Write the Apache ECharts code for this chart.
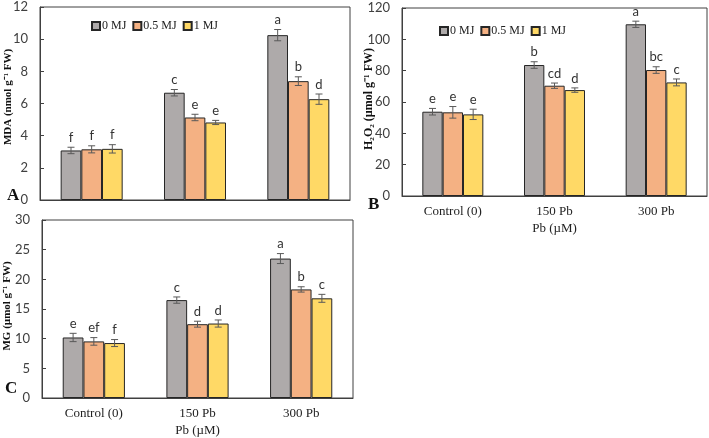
<!DOCTYPE html>
<html>
<head>
<meta charset="utf-8">
<script src="https://cdn.jsdelivr.net/npm/echarts@6/dist/echarts.min.js"></script>
<style>
  html, body { margin: 0; padding: 0; background: #fff; }
  #main { width: 709px; height: 438px; }
</style>
</head>
<body>
<div id="main"></div>
<script>
var categories = ['Control (0)', '150 Pb', '300 Pb'];
var seriesNames = ['0 MJ', '0.5 MJ', '1 MJ'];
var colors = ['#AEAAAA', '#F4B183', '#FFD966'];

// A: MDA
var mda0 = [3.08, 6.67, 10.25];
var mda05 = [3.15, 5.13, 7.39];
var mda1 = [3.18, 4.82, 6.27];
var mdaErr0 = [0.2, 0.2, 0.35];
var mdaErr05 = [0.22, 0.2, 0.27];
var mdaErr1 = [0.26, 0.13, 0.32];
var mdaLet0 = ['f', 'c', 'a'];
var mdaLet05 = ['f', 'e', 'b'];
var mdaLet1 = ['f', 'e', 'd'];

// B: H2O2
var h2o2_0 = [53.8, 83.6, 109.6];
var h2o2_05 = [53.4, 70.4, 80.4];
var h2o2_1 = [52.1, 67.6, 72.5];
var h2o2Err0 = [2.1, 2.1, 2.0];
var h2o2Err05 = [3.7, 1.7, 2.1];
var h2o2Err1 = [3.3, 1.4, 2.2];
var h2o2Let0 = ['e', 'b', 'a'];
var h2o2Let05 = ['e', 'cd', 'bc'];
var h2o2Let1 = ['e', 'd', 'c'];

// C: MG
var mg0 = [10.2, 16.5, 23.5];
var mg05 = [9.54, 12.44, 18.3];
var mg1 = [9.26, 12.55, 16.8];
var mgErr0 = [0.7, 0.53, 0.84];
var mgErr05 = [0.64, 0.5, 0.45];
var mgErr1 = [0.59, 0.6, 0.67];
var mgLet0 = ['e', 'c', 'a'];
var mgLet05 = ['ef', 'd', 'b'];
var mgLet1 = ['f', 'd', 'c'];

var yTitles = ['MDA (nmol g\u207b\u00b9 FW)', 'H\u2082O\u2082 (\u00b5mol g\u207b\u00b9 FW)', 'MG (\u00b5mol g\u207b\u00b9 FW)'];

var serif = '"Liberation Serif", "Times New Roman", serif';
var sans = 'Lato, "Open Sans", sans-serif';

var myChart = echarts.init(document.getElementById('main'));

function barSeries(g, k, vals) {
    return {
        name: seriesNames[k], type: 'bar', xAxisIndex: g, yAxisIndex: g,
        data: vals, barGap: '0%', barCategoryGap: '40%',
        itemStyle: { color: colors[k], borderColor: '#262626', borderWidth: 1 },
        emphasis: { disabled: true }
    };
}

function errSeries(g, k, vals, errs, letters) {
    return {
        type: 'custom', xAxisIndex: g, yAxisIndex: g, z: 10,
        data: vals.map(function (v, i) { return [i, v, errs[i]]; }),
        renderItem: function (params, api) {
            var i = api.value(0), m = api.value(1), e = api.value(2);
            var c = api.coord([i, m]);
            var bw = api.size([1, 0])[0] * 0.6 / 3;
            var x = c[0] + (k - 1) * bw;
            var yt = api.coord([i, m + e])[1];
            var yb = api.coord([i, m - e])[1];
            var st = { stroke: '#595959', lineWidth: 1 };
            return {
                type: 'group',
                children: [
                    { type: 'line', shape: { x1: x, y1: yt, x2: x, y2: yb }, style: st },
                    { type: 'line', shape: { x1: x - 3.5, y1: yt, x2: x + 3.5, y2: yt }, style: st },
                    { type: 'line', shape: { x1: x - 3.5, y1: yb, x2: x + 3.5, y2: yb }, style: st },
                    { type: 'text', x: x, y: yt - 3,
                      style: { text: letters[params.dataIndex], fill: '#333', font: '13px ' + sans,
                               align: 'center', verticalAlign: 'bottom' } }
                ]
            };
        }
    };
}

function yAxis(g, max, interval) {
    return {
        gridIndex: g, type: 'value', min: 0, max: max, interval: interval,
        axisLine: { show: true, lineStyle: { color: '#404040' } },
        axisTick: { show: true, inside: true, length: 4, lineStyle: { color: '#404040' } },
        splitLine: { show: false },
        axisLabel: { fontFamily: sans, fontSize: 13, color: '#404040', margin: 12 }
    };
}

function xAxis(g, showLabels) {
    return {
        gridIndex: g, type: 'category', data: categories,
        name: showLabels ? 'Pb (\u00b5M)' : '', nameLocation: 'middle', nameGap: 26,
        nameTextStyle: { fontFamily: serif, fontSize: 13, color: '#222' },
        axisLine: { lineStyle: { color: '#404040' } },
        axisTick: { show: false },
        axisLabel: { show: showLabels, fontFamily: serif, fontSize: 13, color: '#222', margin: 9 }
    };
}

function yTitle(text, x, y, fs) {
    return {
        type: 'text', x: x, y: y, rotation: Math.PI / 2,
        style: { text: text, font: 'bold ' + fs + 'px ' + serif, fill: '#111',
                 align: 'center', verticalAlign: 'middle' }
    };
}

var legendBase = {
    data: seriesNames, icon: 'rect', itemWidth: 8, itemHeight: 8, itemGap: 6, selectedMode: false,
    textStyle: { fontFamily: serif, fontSize: 12, color: '#222', padding: [0, 0, 0, -3] }
};

var option = {
    animation: false,
    grid: [
        { left: 40, top: 7, width: 310, height: 193, show: true, borderColor: '#404040', borderWidth: 1 },
        { left: 402, top: 8, width: 305, height: 188, show: true, borderColor: '#404040', borderWidth: 1 },
        { left: 42, top: 220, width: 311, height: 179, show: true, borderColor: '#404040', borderWidth: 1 }
    ],
    legend: [
        Object.assign({ left: 86, top: 15 }, legendBase),
        Object.assign({ left: 434, top: 20 }, legendBase)
    ],
    xAxis: [xAxis(0, false), xAxis(1, true), xAxis(2, true)],
    yAxis: [yAxis(0, 12, 2), yAxis(1, 120, 20), yAxis(2, 30, 5)],
    graphic: [
        yTitle(yTitles[0], 8, 97, 11),
        yTitle(yTitles[1], 369, 99, 12),
        yTitle(yTitles[2], 7, 306, 11),
        { type: 'text', left: 7, top: 187, style: { text: 'A', font: 'bold 17px ' + serif, fill: '#111' } },
        { type: 'text', left: 368, top: 196, style: { text: 'B', font: 'bold 17px ' + serif, fill: '#111' } },
        { type: 'text', left: 5, top: 380, style: { text: 'C', font: 'bold 17px ' + serif, fill: '#111' } }
    ],
    series: [
        barSeries(0, 0, mda0), barSeries(0, 1, mda05), barSeries(0, 2, mda1),
        barSeries(1, 0, h2o2_0), barSeries(1, 1, h2o2_05), barSeries(1, 2, h2o2_1),
        barSeries(2, 0, mg0), barSeries(2, 1, mg05), barSeries(2, 2, mg1),
        errSeries(0, 0, mda0, mdaErr0, mdaLet0),
        errSeries(0, 1, mda05, mdaErr05, mdaLet05),
        errSeries(0, 2, mda1, mdaErr1, mdaLet1),
        errSeries(1, 0, h2o2_0, h2o2Err0, h2o2Let0),
        errSeries(1, 1, h2o2_05, h2o2Err05, h2o2Let05),
        errSeries(1, 2, h2o2_1, h2o2Err1, h2o2Let1),
        errSeries(2, 0, mg0, mgErr0, mgLet0),
        errSeries(2, 1, mg05, mgErr05, mgLet05),
        errSeries(2, 2, mg1, mgErr1, mgLet1)
    ]
};
myChart.setOption(option);
</script>
</body>
</html>
